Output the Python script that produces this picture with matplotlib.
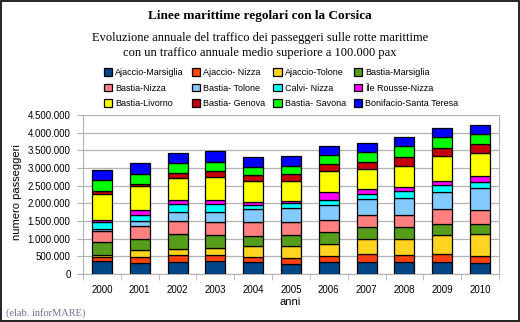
"""
Stacked bars of yearly passenger traffic on regular ferry lines to Corsica.
"""
import matplotlib
matplotlib.use("Agg")
import matplotlib.pyplot as plt
from matplotlib.patches import Rectangle
from matplotlib.ticker import FuncFormatter, MultipleLocator
import numpy as np

years = ["2000", "2001", "2002", "2003", "2004", "2005",
         "2006", "2007", "2008", "2009", "2010"]

routes = ["Ajaccio-Marsiglia", "Ajaccio- Nizza", "Ajaccio-Tolone", "Bastia-Marsiglia",
          "Bastia-Nizza", "Bastia- Tolone", "Calvi- Nizza", "\u00cele Rousse-Nizza",
          "Bastia-Livorno", "Bastia- Genova", "Bastia- Savona", "Bonifacio-Santa Teresa"]

colors = ["#004586", "#ff420e", "#ffd320", "#579d1c",
          "#ff8080", "#83caff", "#00ffff", "#ff00ff",
          "#ffff00", "#c5000b", "#00ff00", "#0000ff"]

# passengers per route and year
ajaccio_marsiglia = [360000, 320000, 350000, 378000, 330000, 283000, 330000, 330000, 330000, 330000, 303000]
ajaccio_nizza     = [130000, 170000, 180000, 150000, 160000, 180000, 170000, 228000, 200000, 230000, 200000]
ajaccio_tolone    = [60000, 180000, 190000, 215000, 295000, 340000, 340000, 425000, 450000, 535000, 625000]
bastia_marsiglia  = [350000, 330000, 400000, 370000, 300000, 295000, 340000, 340000, 340000, 315000, 285000]
bastia_nizza      = [330000, 350000, 370000, 370000, 380000, 360000, 340000, 340000, 340000, 425000, 395000]
bastia_tolone     = [57000, 160000, 265000, 280000, 370000, 415000, 425000, 455000, 480000, 480000, 625000]
calvi_nizza       = [180000, 160000, 235000, 210000, 110000, 130000, 140000, 140000, 200000, 200000, 170000]
ile_rousse_nizza  = [75000, 150000, 105000, 130000, 105000, 75000, 225000, 140000, 115000, 115000, 170000]
bastia_livorno    = [710000, 680000, 610000, 650000, 580000, 550000, 595000, 570000, 595000, 705000, 650000]
bastia_genova     = [85000, 60000, 150000, 170000, 170000, 210000, 200000, 200000, 255000, 230000, 255000]
bastia_savona     = [310000, 280000, 275000, 255000, 225000, 225000, 255000, 285000, 310000, 310000, 285000]
bonifacio_st      = [295000, 300000, 295000, 315000, 290000, 285000, 255000, 255000, 255000, 255000, 255000]

series = [ajaccio_marsiglia, ajaccio_nizza, ajaccio_tolone, bastia_marsiglia,
          bastia_nizza, bastia_tolone, calvi_nizza, ile_rousse_nizza,
          bastia_livorno, bastia_genova, bastia_savona, bonifacio_st]

SERIF = ["Liberation Serif", "DejaVu Serif"]
SANS = ["Liberation Sans", "DejaVu Sans"]
GRID = "#b3b3b3"

plt.rcParams["font.family"] = SANS

fig = plt.figure(figsize=(5.2, 3.22), dpi=100)
fig.patches.append(Rectangle((0.001, 0.002), 0.997, 0.995, transform=fig.transFigure,
                             fill=False, edgecolor="black", linewidth=1.2))

ax = fig.add_axes([83 / 520, 1 - 274 / 322, 416 / 520, 159 / 322])

x = np.arange(len(years))
bottom = np.zeros(len(years))
handles = []
for name, vals, col in zip(routes, series, colors):
    vals = np.array(vals, dtype=float)
    b = ax.bar(x, vals, width=0.53, bottom=bottom, color=col,
               edgecolor="black", linewidth=0.9, label=name, zorder=3)
    handles.append(b)
    bottom += vals

ax.set_xlim(-0.5, len(years) - 0.5)
ax.set_ylim(0, 4500000)
ax.yaxis.set_major_locator(MultipleLocator(500000))
ax.yaxis.set_major_formatter(FuncFormatter(lambda v, p: f"{v:,.0f}".replace(",", ".")))
ax.grid(axis="y", color=GRID, linewidth=0.9, zorder=0)

ax.set_xticks(x)
ax.set_xticklabels(years)
ax.set_xticks(np.arange(-0.5, len(years)), minor=True)
ax.tick_params(axis="x", which="major", length=0, labelsize=7, pad=8)
ax.tick_params(axis="x", which="minor", length=4, color=GRID)
ax.tick_params(axis="y", length=4, color=GRID, labelsize=7, pad=5)
for side in ["left", "bottom", "right", "top"]:
    ax.spines[side].set_color(GRID)
ax.spines["top"].set_visible(False)

fig.text(17 / 520, 1 - 192 / 322, "numero passeggeri", rotation=90,
         ha="center", va="center", fontsize=8)
fig.text(290 / 520, 1 - 302 / 322, "anni", ha="center", va="center", fontsize=8)

fig.text(0.5, 1 - 16 / 322, "Linee marittime regolari con la Corsica",
         ha="center", va="center", fontsize=9.5, fontweight="bold", family=SERIF)
fig.text(0.5, 1 - 45.5 / 322,
         "Evoluzione annuale del traffico dei passeggeri sulle rotte marittime\n"
         "con un traffico annuale medio superiore a 100.000 pax",
         ha="center", va="center", fontsize=9, family=SERIF, linespacing=1.3)
fig.text(6 / 520, 1 - 313 / 322, "(elab. inforMARE)", ha="left", va="center",
         fontsize=7.5, family=SERIF, color="#707090")

# legend is filled row by row in the original
order = [r * 4 + c for c in range(4) for r in range(3)]
leg = fig.legend([handles[i] for i in order], [routes[i] for i in order],
                 ncol=4, loc="center", bbox_to_anchor=(281 / 520, 1 - 88 / 322),
                 frameon=False, fontsize=6.5, handlelength=0.95, handleheight=0.95,
                 handletextpad=0.3, columnspacing=0.9, labelspacing=0.75,
                 borderaxespad=0)

fig.savefig("out.png", dpi=100)
